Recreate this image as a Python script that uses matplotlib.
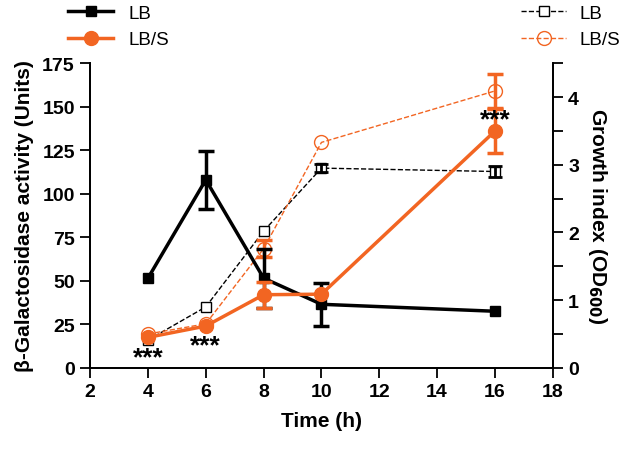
import numpy as np
import matplotlib
matplotlib.use('Agg')
import matplotlib.pyplot as plt
from matplotlib.lines import Line2D
from matplotlib.ticker import MultipleLocator

plt.rcParams['font.family'] = ['Liberation Sans', 'DejaVu Sans']

time = np.array([4, 6, 8, 10, 16])

# beta-galactosidase activity (left axis)
lb_act = np.array([51.5, 108, 51.5, 36.5, 32.5])
lb_act_err = np.array([0, 16.5, 17, 12.5, 0])
lbs_act = np.array([17.5, 24, 42, 42.3, 136])
lbs_act_err = np.array([0, 0, 7.5, 0, 12.5])

# growth index OD600 (right axis)
lb_od = np.array([0.41, 0.9, 2.02, 2.95, 2.9])
lb_od_err = np.array([0, 0, 0, 0.06, 0.08])
lbs_od = np.array([0.5, 0.65, 1.76, 3.33, 4.09])
lbs_od_err = np.array([0, 0, 0.13, 0, 0.25])

star_x = [4, 6, 16]
star_y = [6, 13, 143]

orange = '#F26522'


def err(a, x, y, e, color, cap, lw, z):
    m = e > 0
    a.errorbar(x[m], y[m], yerr=e[m], fmt='none', ecolor=color, capsize=cap,
               capthick=lw, elinewidth=lw, zorder=z)


fig = plt.figure(figsize=(6.26, 4.52), dpi=100)
ax = fig.add_axes([0.144, 0.184, 0.739, 0.674])
ax2 = ax.twinx()
ax.set_zorder(2)
ax.patch.set_visible(False)

ax.plot(time, lb_act, color='black', lw=2.5, marker='s', ms=7, zorder=3)
err(ax, time, lb_act, lb_act_err, 'black', 6, 2.5, 3)
ax.plot(time, lbs_act, color=orange, lw=2.5, marker='o', ms=10, zorder=4)
err(ax, time, lbs_act, lbs_act_err, orange, 6, 2.5, 4)

ax2.plot(time, lb_od, color='black', lw=1, ls='--', marker='s', ms=7, mfc='white', mew=1)
err(ax2, time, lb_od, lb_od_err, 'black', 5, 2, 2)
ax2.plot(time, lbs_od, color=orange, lw=1, ls='--', marker='o', ms=10, mfc='none', mew=1)
err(ax2, time, lbs_od, lbs_od_err, orange, 6, 2.5, 2)

for x, y in zip(star_x, star_y):
    ax.text(x, y, '***', ha='center', va='center', fontsize=19, fontweight='bold', zorder=5)

ax.set_xlim(2, 18)
ax.set_ylim(0, 175)
ax2.set_ylim(0, 4.5)
ax.set_xticks(range(2, 19, 2))
ax.set_yticks(range(0, 176, 25))
ax2.set_yticks([0, 1, 2, 3, 4])
ax2.yaxis.set_minor_locator(MultipleLocator(0.5))

for a in (ax, ax2):
    a.spines['top'].set_visible(False)
    for s in a.spines.values():
        s.set_linewidth(1.3)
    a.tick_params(direction='out', length=7, width=1.3, labelsize=14, pad=4)
ax2.tick_params(which='minor', direction='out', length=7, width=1.3)

for lab in ax.get_xticklabels() + ax.get_yticklabels() + ax2.get_yticklabels():
    lab.set_fontweight('bold')

ax.set_xlabel('Time (h)', fontsize=15, fontweight='bold', labelpad=8)
ax.set_ylabel('β-Galactosidase activity (Units)', fontsize=15, fontweight='bold', labelpad=6)
ax2.set_ylabel('Growth index (OD$_{\\mathbf{600}}$)', fontsize=15, fontweight='bold',
               rotation=270, labelpad=22)

h1 = [Line2D([], [], color='black', lw=2.5, marker='s', ms=7),
      Line2D([], [], color=orange, lw=2.5, marker='o', ms=10)]
h2 = [Line2D([], [], color='black', lw=1, ls='--', marker='s', ms=7, mfc='white'),
      Line2D([], [], color=orange, lw=1, ls='--', marker='o', ms=10, mfc='none')]
fig.legend(h1, ['LB', 'LB/S'], loc='upper left', bbox_to_anchor=(0.082, 1.025),
           frameon=False, fontsize=13.5, handlelength=2.4, labelspacing=0.5)
fig.legend(h2, ['LB', 'LB/S'], loc='upper left', bbox_to_anchor=(0.806, 1.025),
           frameon=False, fontsize=13.5, handlelength=2.4, labelspacing=0.5,
           handletextpad=0.7)

fig.savefig('out.png', dpi=100)
